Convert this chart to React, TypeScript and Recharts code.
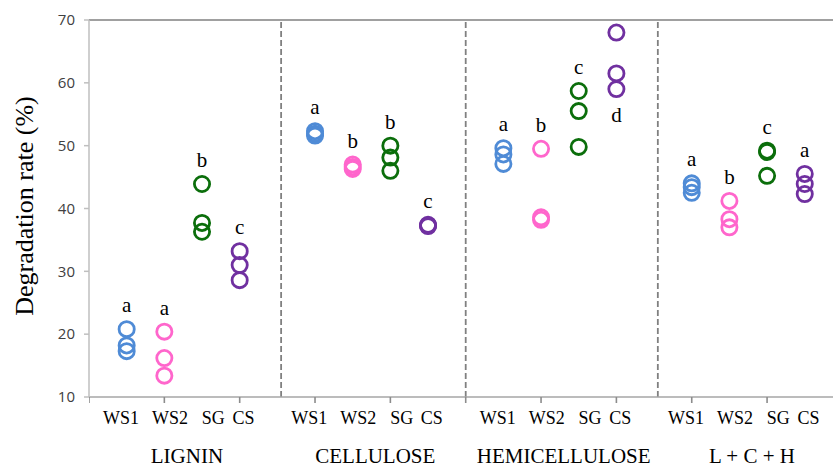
import { ScatterChart, Scatter, XAxis, YAxis, ReferenceLine, ReferenceDot } from 'recharts';

const CATEGORIES = ['WS1', 'WS2', 'SG', 'CS'];
const GROUPS = ['LIGNIN', 'CELLULOSE', 'HEMICELLULOSE', 'L + C + H'];

// three replicates per category, same order as CATEGORIES
const LIGNIN = [[20.8, 18.2, 17.3], [20.4, 16.2, 13.4], [43.9, 37.7, 36.3], [33.2, 31.0, 28.6]];
const CELLULOSE = [[52.3, 51.9, 51.6], [47.0, 46.6, 46.3], [50.0, 48.1, 46.0], [37.4, 37.3, 37.2]];
const HEMICELLULOSE = [[49.6, 48.6, 47.1], [49.5, 38.6, 38.2], [58.7, 55.5, 49.8], [68.0, 61.5, 59.0]];
const LCH = [[44.0, 43.4, 42.5], [41.2, 38.3, 37.0], [49.2, 49.0, 45.2], [45.5, 43.9, 42.3]];

const LIGNIN_SIG = ['a', 'a', 'b', 'c'];
const CELLULOSE_SIG = ['a', 'b', 'b', 'c'];
const HEMICELLULOSE_SIG = ['a', 'b', 'c', 'd'];
const LCH_SIG = ['a', 'b', 'c', 'a'];

const Y_TICKS = [10, 20, 30, 40, 50, 60, 70];

const VALUES = [LIGNIN, CELLULOSE, HEMICELLULOSE, LCH];
const SIGS = [LIGNIN_SIG, CELLULOSE_SIG, HEMICELLULOSE_SIG, LCH_SIG];

const COLORS = ['#4F8BD6', '#FF66CC', '#0B6E0B', '#7030A0'];
const X_DOMAIN: [number, number] = [0, 19.75];
const AXIS_TICKS = [0, 2, 4, 6, 8, 10, 12, 14, 16, 18];
const LABEL_OFFSETS = [0.85, 2.15, 3.3, 4.1];
const SEPARATORS = [5.1, 10, 15.1];

const xOf = (g: number, c: number) => g * 5 + c + 1;

const seriesData = CATEGORIES.map((_, c) =>
  VALUES.flatMap((group, g) => group[c].map((v) => ({ x: xOf(g, c), y: v })))
);

const letterData = VALUES.flatMap((group, g) =>
  group.map((vals, c) => {
    const below = g === 2 && c === 3;
    return { x: xOf(g, c), y: below ? Math.min(...vals) : Math.max(...vals), letter: SIGS[g][c], below };
  })
);

// x-axis tick marks sit on the bottom of the value axis
const tickData = AXIS_TICKS.map((t) => ({ x: t, y: Y_TICKS[0] }));

const catLabels = GROUPS.flatMap((_, g) => CATEGORIES.map((name, c) => ({ x: g * 5 + LABEL_OFFSETS[c], name })));
const groupLabels = GROUPS.map((name, g) => ({ x: g * 5 + 2.6, name }));

const serif = '"Liberation Serif", "Times New Roman", serif';

const belowText = (text: string, dy: number, size: number) => (props: any) => (
  <text
    x={props.viewBox.x}
    y={props.viewBox.y + dy}
    textAnchor="middle"
    fontFamily={serif}
    fontSize={size}
    fill="#000"
  >
    {text}
  </text>
);

const Ring = (color: string) => (props: any) => (
  <circle cx={props.cx} cy={props.cy} r={7.6} fill="none" stroke={color} strokeWidth={2.8} />
);

const TickMark = (props: any) => (
  <line x1={props.cx} x2={props.cx} y1={props.cy} y2={props.cy + 6} stroke="#8C8C8C" strokeWidth={1.6} />
);

const Letter = (props: any) => (
  <text
    x={props.cx}
    y={props.cy + (props.payload.below ? 33 : -17)}
    textAnchor="middle"
    fontFamily={serif}
    fontSize={21}
    fill="#000"
  >
    {props.payload.letter}
  </text>
);

const YTitle = () => (
  <text
    x={24}
    y={206}
    transform="rotate(-90 24 206)"
    textAnchor="middle"
    dominantBaseline="central"
    fontFamily={serif}
    fontSize={26}
    fill="#000"
  >
    Degradation rate (%)
  </text>
);

const Empty = () => <g />;

export default function App() {
  return (
    <div style={{ width: 833, height: 467, background: '#fff' }}>
      <style>{'body{margin:0}'}</style>
      <ScatterChart width={833} height={467} margin={{ top: 20, right: 0, bottom: 0, left: 0 }}>
        <XAxis
          xAxisId="main"
          type="number"
          dataKey="x"
          domain={X_DOMAIN}
          ticks={AXIS_TICKS}
          interval={0}
          allowDataOverflow
          height={70}
          tick={false}
          tickLine={false}
          axisLine={{ stroke: '#A6A6A6', strokeWidth: 1.5 }}
        />
        <YAxis
          type="number"
          dataKey="y"
          domain={[10, 70]}
          ticks={Y_TICKS}
          interval={0}
          width={89}
          tickSize={5}
          tickMargin={9}
          axisLine={{ stroke: '#BFBFBF', strokeWidth: 1.5 }}
          tickLine={{ stroke: '#BFBFBF', strokeWidth: 1.5 }}
          tick={{ fill: '#404040', fontFamily: '"Open Sans", sans-serif', fontSize: 15 }}
          label={YTitle}
        />
        <ReferenceLine xAxisId="main" y={70} stroke="#808080" strokeWidth={1.5} />
        {SEPARATORS.map((s) => (
          <ReferenceLine key={s} xAxisId="main" x={s} stroke="#808080" strokeWidth={1.8} strokeDasharray="6 3" />
        ))}
        {catLabels.map((l, i) => (
          <ReferenceDot
            key={'c' + i}
            xAxisId="main"
            x={l.x}
            y={10}
            r={0}
            shape={Empty}
            ifOverflow="visible"
            label={belowText(l.name, 27, 18)}
          />
        ))}
        {groupLabels.map((l, i) => (
          <ReferenceDot
            key={'g' + i}
            xAxisId="main"
            x={l.x}
            y={10}
            r={0}
            shape={Empty}
            ifOverflow="visible"
            label={belowText(l.name, 66, 21)}
          />
        ))}
        <Scatter xAxisId="main" data={tickData} shape={TickMark} isAnimationActive={false} />
        {seriesData.map((d, c) => (
          <Scatter
            key={CATEGORIES[c]}
            name={CATEGORIES[c]}
            xAxisId="main"
            data={d}
            shape={Ring(COLORS[c])}
            isAnimationActive={false}
          />
        ))}
        <Scatter xAxisId="main" data={letterData} shape={Letter} isAnimationActive={false} />
      </ScatterChart>
    </div>
  );
}
